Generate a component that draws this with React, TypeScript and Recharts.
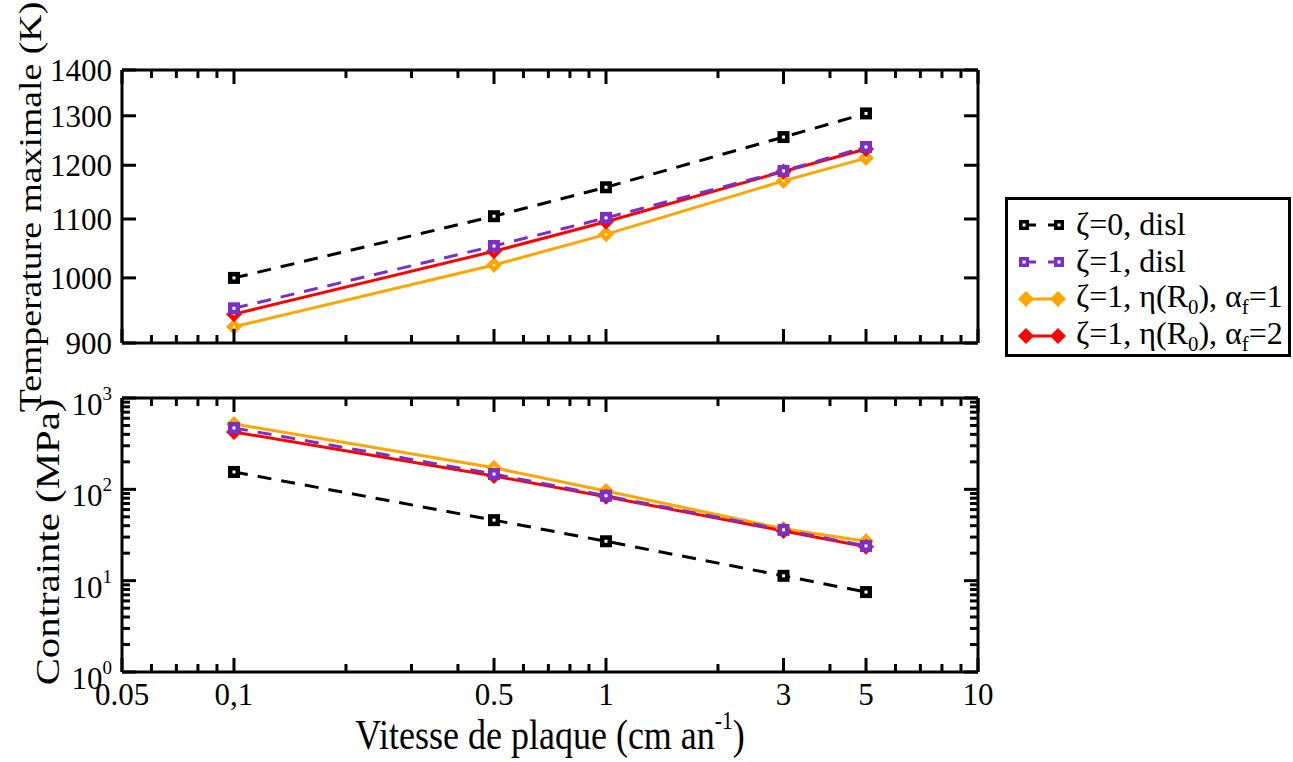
import React from 'react';
import { LineChart, Line, XAxis, YAxis, Legend } from 'recharts';

// plate speed (cm/an)
const speeds = [0.1, 0.5, 1, 3, 5];

// maximum temperature (K)
const tempZeta0Disl = [1000, 1105, 1158, 1256, 1305];
const tempZeta1Disl = [952, 1053, 1102, 1189, 1236];
const tempEtaAlpha1 = [924, 1021, 1073, 1170, 1214];
const tempEtaAlpha2 = [943, 1044, 1095, 1188, 1232];

// stress (MPa)
const stressZeta0Disl = [155, 46, 27, 11.3, 7.5];
const stressZeta1Disl = [470, 147, 85, 36, 24];
const stressEtaAlpha1 = [520, 172, 96, 37, 27];
const stressEtaAlpha2 = [425, 140, 83, 35, 23.5];

const xMajorTicks = [0.05, 0.1, 0.5, 1, 3, 5, 10];
const xTickLabels = ['0.05', '0,1', '0.5', '1', '3', '5', '10'];
const xMinorTicks = [0.06, 0.07, 0.08, 0.09, 0.2, 0.3, 0.4, 0.6, 0.7, 0.8, 0.9, 2, 4, 6, 7, 8, 9];
const tempTicks = [900, 1000, 1100, 1200, 1300, 1400];
const stressMajorTicks = [1, 10, 100, 1000];
const stressMinorTicks = [2, 3, 4, 5, 6, 7, 8, 9, 20, 30, 40, 50, 60, 70, 80, 90, 200, 300, 400, 500, 600, 700, 800, 900];

const BLACK = '#000000';
const PURPLE = '#7b2fc4';
const ORANGE = '#ffa500';
const RED = '#ff0000';
const FONT = '"Liberation Serif", "Times New Roman", serif';

const tempData = speeds.map((v, i) => ({
  v,
  z0: tempZeta0Disl[i],
  z1: tempZeta1Disl[i],
  a1: tempEtaAlpha1[i],
  a2: tempEtaAlpha2[i],
}));
const stressData = speeds.map((v, i) => ({
  v,
  z0: stressZeta0Disl[i],
  z1: stressZeta1Disl[i],
  a1: stressEtaAlpha1[i],
  a2: stressEtaAlpha2[i],
}));

const xAllTicks = [...xMajorTicks, ...xMinorTicks].sort((a, b) => a - b);
const stressAllTicks = [...stressMajorTicks, ...stressMinorTicks].sort((a, b) => a - b);

const squareDot = (color: string) => (props: any) => {
  const { cx, cy, index } = props;
  if (cx == null || cy == null) return <g key={index} />;
  return (
    <g key={`s${index}`}>
      <rect x={cx - 6} y={cy - 6} width={12} height={12} fill={color} />
      <rect x={cx - 1.5} y={cy - 1.5} width={3} height={3} fill="#fff" />
    </g>
  );
};

const diamondDot = (color: string) => (props: any) => {
  const { cx, cy, index } = props;
  if (cx == null || cy == null) return <g key={index} />;
  return (
    <g key={`d${index}`}>
      <path d={`M${cx},${cy - 8} L${cx + 8},${cy} L${cx},${cy + 8} L${cx - 8},${cy} Z`} fill={color} />
      <circle cx={cx} cy={cy} r={1.2} fill="#fff" />
    </g>
  );
};

// ticks point into the frame, labels outside
const xTick = (side: 'top' | 'bottom', labels: boolean) => (props: any) => {
  const { x, y, payload } = props;
  const v = payload.value;
  const idx = xMajorTicks.indexOf(v);
  const len = idx >= 0 ? 14 : 8;
  const dir = side === 'top' ? 1 : -1;
  return (
    <g>
      <line x1={x} x2={x} y1={y} y2={y + dir * len} stroke="#000" strokeWidth={3} />
      {labels && idx >= 0 && (
        <text x={x} y={y + 33} textAnchor="middle" fontSize={31} fontFamily={FONT} fill="#000">
          {xTickLabels[idx]}
        </text>
      )}
    </g>
  );
};

const tempTick = (side: 'left' | 'right') => (props: any) => {
  const { x, y, payload } = props;
  const dir = side === 'left' ? 1 : -1;
  return (
    <g>
      <line x1={x} x2={x + dir * 14} y1={y} y2={y} stroke="#000" strokeWidth={3} />
      {side === 'left' && (
        <text x={x - 10} y={y + 11} textAnchor="end" fontSize={31} fontFamily={FONT} fill="#000">
          {payload.value}
        </text>
      )}
    </g>
  );
};

const stressTick = (side: 'left' | 'right') => (props: any) => {
  const { x, y, payload } = props;
  const v = payload.value;
  const major = stressMajorTicks.includes(v);
  const dir = side === 'left' ? 1 : -1;
  return (
    <g>
      <line x1={x} x2={x + dir * (major ? 14 : 8)} y1={y} y2={y} stroke="#000" strokeWidth={3} />
      {side === 'left' && major && (
        <text x={x - 10} y={y + 17} textAnchor="end" fontSize={31} fontFamily={FONT} fill="#000">
          <tspan>10</tspan>
          <tspan dy={-15} fontSize={19}>{Math.round(Math.log10(v))}</tspan>
        </text>
      )}
    </g>
  );
};

const sub = { fontSize: '0.65em' };
const legendItems = [
  { label: <>ζ=0, disl</>, color: BLACK, dashed: true, marker: 'square' },
  { label: <>ζ=1, disl</>, color: PURPLE, dashed: true, marker: 'square' },
  { label: <>ζ=1, η(R<sub style={sub}>0</sub>), α<sub style={sub}>f</sub>=1</>, color: ORANGE, dashed: false, marker: 'diamond' },
  { label: <>ζ=1, η(R<sub style={sub}>0</sub>), α<sub style={sub}>f</sub>=2</>, color: RED, dashed: false, marker: 'diamond' },
];

const LegendBox = () => (
  <div
    style={{
      border: '3px solid #000',
      background: '#fff',
      padding: '6px 0 4px 10px',
      fontFamily: FONT,
      fontSize: 32,
      boxSizing: 'border-box',
      width: 286,
      height: 160,
    }}
  >
    {legendItems.map((it, i) => (
      <div key={i} style={{ display: 'flex', alignItems: 'center', whiteSpace: 'nowrap', height: 37 }}>
        <svg width={50} height={20} style={{ marginRight: 8 }}>
          <line x1={6} x2={44} y1={10} y2={10} stroke={it.color} strokeWidth={3} strokeDasharray={it.dashed ? '12 12' : undefined} />
          {it.marker === 'square' ? (
            <>
              <rect x={1} y={5} width={10} height={10} fill={it.color} />
              <rect x={4.5} y={8.5} width={3} height={3} fill="#fff" />
              <rect x={36} y={5} width={10} height={10} fill={it.color} />
              <rect x={39.5} y={8.5} width={3} height={3} fill="#fff" />
            </>
          ) : (
            <>
              <path d="M6,2 L14,10 L6,18 L-2,10 Z" transform="translate(2,0)" fill={it.color} />
              <path d="M42,2 L50,10 L42,18 L34,10 Z" transform="translate(-2,0)" fill={it.color} />
            </>
          )}
        </svg>
        <span>{it.label}</span>
      </div>
    ))}
  </div>
);

const series = (key: string, color: string, dashed: boolean, dot: any) => (
  <Line
    key={key}
    type="linear"
    dataKey={key}
    stroke={color}
    strokeWidth={3}
    strokeDasharray={dashed ? '14 10' : undefined}
    dot={dot}
    activeDot={false}
    isAnimationActive={false}
  />
);

const lines = () => [
  series('z0', BLACK, true, squareDot(BLACK)),
  series('a1', ORANGE, false, diamondDot(ORANGE)),
  series('a2', RED, false, diamondDot(RED)),
  series('z1', PURPLE, true, squareDot(PURPLE)),
];

const xAxes = (showLabels: boolean, bottomHeight: number) => [
  <XAxis
    key="xb"
    xAxisId="b"
    dataKey="v"
    type="number"
    scale="log"
    domain={[0.05, 10]}
    ticks={xAllTicks}
    interval={0}
    allowDataOverflow
    height={bottomHeight}
    tickSize={0}
    tickMargin={0}
    tickLine={false}
    axisLine={{ stroke: '#000', strokeWidth: 3 }}
    tick={xTick('bottom', showLabels)}
  />,
  <XAxis
    key="xt"
    xAxisId="t"
    orientation="top"
    dataKey="v"
    type="number"
    scale="log"
    domain={[0.05, 10]}
    ticks={xAllTicks}
    interval={0}
    allowDataOverflow
    height={10}
    tickSize={0}
    tickMargin={0}
    tickLine={false}
    axisLine={{ stroke: '#000', strokeWidth: 3 }}
    tick={xTick('top', false)}
  />,
];

export default function App() {
  return (
    <div style={{ position: 'absolute', left: 0, top: 0, width: 1293, height: 762, background: '#fff', fontFamily: FONT }}>
      <div style={{ position: 'absolute', left: 0, top: 0 }}>
        <LineChart width={1293} height={370} data={tempData} margin={{ top: 60, right: 305, bottom: 17, left: 62 }}>
          {xAxes(false, 10)}
          <YAxis
            yAxisId="l"
            type="number"
            scale="log"
            domain={[900, 1400]}
            ticks={tempTicks}
            interval={0}
            allowDataOverflow
            width={60}
            tickSize={0}
            tickMargin={0}
            tickLine={false}
            axisLine={{ stroke: '#000', strokeWidth: 3 }}
            tick={tempTick('left')}
          />
          <YAxis
            yAxisId="r"
            orientation="right"
            type="number"
            scale="log"
            domain={[900, 1400]}
            ticks={tempTicks}
            interval={0}
            allowDataOverflow
            width={10}
            tickSize={0}
            tickMargin={0}
            tickLine={false}
            axisLine={{ stroke: '#000', strokeWidth: 3 }}
            tick={tempTick('right')}
          />
          {lines().map((l) => React.cloneElement(l, { xAxisId: 'b', yAxisId: 'l' }))}
          <Legend
            layout="vertical"
            align="center"
            verticalAlign="middle"
            content={() => <LegendBox />}
            wrapperStyle={{ left: 1005, top: 197, width: 286, height: 160 }}
          />
        </LineChart>
      </div>
      <div style={{ position: 'absolute', left: 0, top: 370 }}>
        <LineChart width={1293} height={392} data={stressData} margin={{ top: 18, right: 305, bottom: 60, left: 62 }}>
          {xAxes(true, 30)}
          <YAxis
            yAxisId="l"
            type="number"
            scale="log"
            domain={[1, 1000]}
            ticks={stressAllTicks}
            interval={0}
            allowDataOverflow
            width={60}
            tickSize={0}
            tickMargin={0}
            tickLine={false}
            axisLine={{ stroke: '#000', strokeWidth: 3 }}
            tick={stressTick('left')}
          />
          <YAxis
            yAxisId="r"
            orientation="right"
            type="number"
            scale="log"
            domain={[1, 1000]}
            ticks={stressAllTicks}
            interval={0}
            allowDataOverflow
            width={10}
            tickSize={0}
            tickMargin={0}
            tickLine={false}
            axisLine={{ stroke: '#000', strokeWidth: 3 }}
            tick={stressTick('right')}
          />
          {lines().map((l) => React.cloneElement(l, { xAxisId: 'b', yAxisId: 'l' }))}
        </LineChart>
      </div>
      <div
        style={{
          position: 'absolute',
          left: 30,
          top: 207,
          transform: 'translate(-50%, -50%) rotate(-90deg) scaleX(1.18)',
          fontSize: 32,
          whiteSpace: 'nowrap',
          lineHeight: 1,
        }}
      >
        Temperature maximale (K)
      </div>
      <div
        style={{
          position: 'absolute',
          left: 48,
          top: 542,
          transform: 'translate(-50%, -50%) rotate(-90deg) scaleX(1.2)',
          fontSize: 34,
          whiteSpace: 'nowrap',
          lineHeight: 1,
        }}
      >
        Contrainte (MPa)
      </div>
      <div
        style={{
          position: 'absolute',
          left: 550,
          top: 734,
          transform: 'translate(-50%, -50%) scaleY(1.15)',
          fontSize: 36,
          whiteSpace: 'nowrap',
          lineHeight: 1.1,
        }}
      >
        Vitesse de plaque (cm an<sup style={{ fontSize: '0.6em', verticalAlign: '0.8em' }}>-1</sup>)
      </div>
    </div>
  );
}
